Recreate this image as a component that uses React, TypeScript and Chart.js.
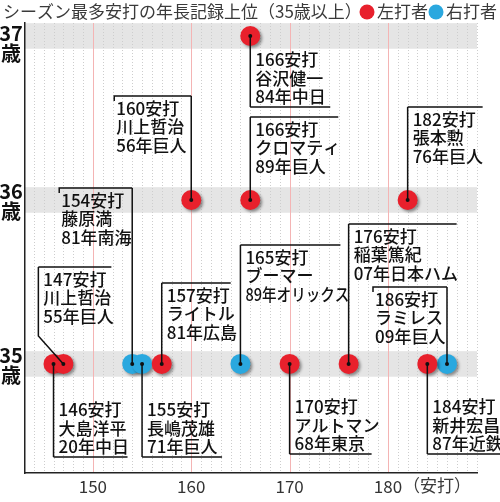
import React, { useEffect, useRef } from "react";
import { Chart, registerables } from "chart.js";

Chart.register(...registerables);

// one entry per record: hits in the season, age, player, season + team, batting hand
const hits = [146, 147, 154, 155, 157, 165, 170, 176, 184, 186, 160, 166, 182, 166];
const ages = [35, 35, 35, 35, 35, 35, 35, 35, 35, 35, 36, 36, 36, 37];
const players = [
  "大島洋平", "川上哲治", "藤原満", "長嶋茂雄", "ライトル", "ブーマー", "アルトマン",
  "稲葉篤紀", "新井宏昌", "ラミレス", "川上哲治", "クロマティ", "張本勲", "谷沢健一",
];
const seasons = [
  "20年中日", "55年巨人", "81年南海", "71年巨人", "81年広島", "89年オリックス", "68年東京",
  "07年日本ハム", "87年近鉄", "09年巨人", "56年巨人", "89年巨人", "76年巨人", "84年中日",
];
const hands = ["L", "L", "R", "R", "L", "R", "L", "L", "L", "R", "L", "L", "L", "L"];

const xTicks = [150, 160, 170, 180];
const ageTicks = [35, 36, 37];

const TITLE = "シーズン最多安打の年長記録上位（35歳以上）";
const X_UNIT = "（安打）";
const AGE_SUFFIX = "歳";
const HIT_SUFFIX = "安打";

const RED = "#e8202c";
const BLUE = "#2aa8df";
const FONT = '"Noto Sans CJK JP", "Noto Sans", sans-serif';

// label placement, pixels relative to the dot (same order as the records)
type Callout = { dir: "up" | "down"; side: "left" | "right"; dy: number; w: number; dx?: number; bend?: number };
const callouts: Callout[] = [
  { dir: "down", side: "left", dy: 93, w: 74 },
  { dir: "up", side: "left", dy: -97, w: 73, dx: -25, bend: -28 },
  { dir: "up", side: "right", dy: -176, w: 73 },
  { dir: "down", side: "left", dy: 93, w: 80 },
  { dir: "up", side: "left", dy: -81, w: 69 },
  { dir: "up", side: "left", dy: -119, w: 100 },
  { dir: "down", side: "left", dy: 90, w: 82 },
  { dir: "up", side: "left", dy: -140, w: 108 },
  { dir: "down", side: "left", dy: 90, w: 80 },
  { dir: "up", side: "right", dy: -77, w: 74 },
  { dir: "up", side: "right", dy: -104, w: 77 },
  { dir: "up", side: "left", dy: -83, w: 88 },
  { dir: "up", side: "left", dy: -93, w: 75 },
  { dir: "down", side: "left", dy: 71, w: 80 },
];

const pointsFor = (hand: string) =>
  hits.map((h, i) => ({ x: h, y: ages[i] })).filter((_, i) => hands[i] === hand);

const backdrop = {
  id: "backdrop",
  beforeDraw(chart: any) {
    const { ctx, chartArea: a, scales } = chart;
    ctx.save();
    ctx.fillStyle = "#e5e5e5";
    ageTicks.forEach((v) => {
      const y1 = scales.y.getPixelForValue(v + 0.078);
      const y2 = scales.y.getPixelForValue(v - 0.078);
      ctx.fillRect(a.left, y1, a.right - a.left, y2 - y1);
    });
    ctx.lineWidth = 1;
    scales.x.ticks.forEach((t: any) => {
      const x = Math.round(scales.x.getPixelForValue(t.value)) + 0.5;
      const major = xTicks.includes(t.value);
      ctx.strokeStyle = major ? "#f4b4b4" : "#cdcdcd";
      ctx.setLineDash(major ? [] : [1, 2]);
      ctx.beginPath();
      ctx.moveTo(x, a.top);
      ctx.lineTo(x, a.bottom);
      ctx.stroke();
    });
    ctx.restore();
  },
  beforeDatasetsDraw(chart: any) {
    const { ctx } = chart;
    ctx.save();
    ctx.shadowColor = "rgba(0,0,0,0.4)";
    ctx.shadowBlur = 3;
    ctx.shadowOffsetX = 2;
    ctx.shadowOffsetY = 2;
  },
  afterDatasetsDraw(chart: any) {
    chart.ctx.restore();
  },
};

const labels = {
  id: "labels",
  afterDatasetsDraw(chart: any) {
    const { ctx, scales } = chart;
    ctx.save();
    ctx.strokeStyle = "#111";
    ctx.fillStyle = "#111";
    ctx.lineWidth = 1.5;
    ctx.font = `500 17px ${FONT}`;
    ctx.textBaseline = "middle";
    hits.forEach((h, i) => {
      const c = callouts[i];
      const px = scales.x.getPixelForValue(h);
      const py = scales.y.getPixelForValue(ages[i]);
      const lx = px + (c.dx || 0);
      const ly = py + c.dy;
      const x0 = c.side === "left" ? lx : lx - c.w;
      const x1 = c.side === "left" ? lx + c.w : lx;
      ctx.beginPath();
      ctx.moveTo(px, py);
      if (c.bend !== undefined) ctx.lineTo(lx, py + c.bend);
      ctx.lineTo(lx, ly);
      ctx.moveTo(x0, ly);
      ctx.lineTo(x1, ly);
      if (c.dir === "up" && c.side === "right") {
        ctx.moveTo(x0, ly - 0.75);
        ctx.lineTo(x0, ly + 5);
      }
      ctx.stroke();
      ctx.beginPath();
      ctx.arc(px, py, 2, 0, Math.PI * 2);
      ctx.fill();

      const lines = [`${h}${HIT_SUFFIX}`, players[i], seasons[i]];
      const tx = c.side === "left" ? lx + 5 : x0 + 2;
      const first = c.dir === "up" ? ly + 12.5 : ly - 10 - 2 * 18.5;
      lines.forEach((s, k) => ctx.fillText(s, tx, first + k * 18.5, c.w + 4));
    });
    ctx.restore();
  },
};

const frameText = {
  id: "frameText",
  afterDraw(chart: any) {
    const { ctx, chartArea: a, scales } = chart;
    ctx.save();
    ctx.textBaseline = "middle";
    ctx.font = `17px ${FONT}`;
    ctx.fillStyle = "#3a3a3a";
    ctx.textAlign = "left";
    ctx.fillText(TITLE, 3, 12);

    // legend from the datasets
    let lx = 367;
    chart.data.datasets.forEach((ds: any) => {
      ctx.fillStyle = ds.backgroundColor;
      ctx.beginPath();
      ctx.arc(lx, 12, 7.5, 0, Math.PI * 2);
      ctx.fill();
      ctx.fillStyle = "#3a3a3a";
      ctx.fillText(ds.label, lx + 10, 12);
      lx += 69;
    });

    ctx.fillText(X_UNIT, 403, 486);

    // age labels on the y axis
    ctx.font = `bold 20px ${FONT}`;
    ctx.fillStyle = "#111";
    ctx.textAlign = "center";
    ageTicks.forEach((v) => {
      const py = scales.y.getPixelForValue(v);
      const y1 = Math.max(py - 9, a.top + 10);
      ctx.fillText(String(v), 11, y1);
      ctx.fillText(AGE_SUFFIX, 11, y1 + 20);
    });
    ctx.restore();
  },
};

const App: React.FC = () => {
  const canvasRef = useRef<HTMLCanvasElement>(null);

  useEffect(() => {
    if (!canvasRef.current) return;
    const chart = new Chart(canvasRef.current, {
      type: "scatter",
      data: {
        datasets: [
          { label: "左打者", data: pointsFor("L"), backgroundColor: RED, pointRadius: 10, pointHoverRadius: 10, borderWidth: 0 },
          { label: "右打者", data: pointsFor("R"), backgroundColor: BLUE, pointRadius: 10, pointHoverRadius: 10, borderWidth: 0 },
        ],
      },
      options: {
        responsive: false,
        animation: false,
        events: [],
        layout: { padding: { top: 23, right: 23, left: 0, bottom: 0 } },
        plugins: { legend: { display: false }, tooltip: { enabled: false } },
        scales: {
          x: {
            type: "linear",
            min: 143.1,
            max: 189.05,
            afterBuildTicks: (s: any) => {
              const t = [];
              for (let v = 144; v <= 189; v++) t.push({ value: v });
              s.ticks = t;
            },
            afterFit: (s: any) => {
              s.height = 29;
            },
            grid: { display: false, drawTicks: false },
            border: { color: "#222", width: 1.5 },
            ticks: {
              autoSkip: false,
              maxRotation: 0,
              padding: 3,
              color: "#333",
              font: { family: FONT, size: 17 },
              callback: (v: any) => (xTicks.includes(v) ? String(v) : ""),
            },
          },
          y: {
            type: "linear",
            min: 34.335,
            max: 37.079,
            afterBuildTicks: (s: any) => {
              s.ticks = ageTicks.map((v) => ({ value: v }));
            },
            afterFit: (s: any) => {
              s.width = 25;
            },
            grid: { display: false, drawTicks: false },
            border: { color: "#222", width: 1.5 },
            ticks: { display: false },
          },
        },
      },
      plugins: [backdrop, labels, frameText],
    });
    return () => chart.destroy();
  }, []);

  return (
    <div style={{ position: "fixed", left: 0, top: 0, width: 500, height: 502, background: "#fff" }}>
      <canvas ref={canvasRef} width={500} height={502} />
    </div>
  );
};

export default App;
